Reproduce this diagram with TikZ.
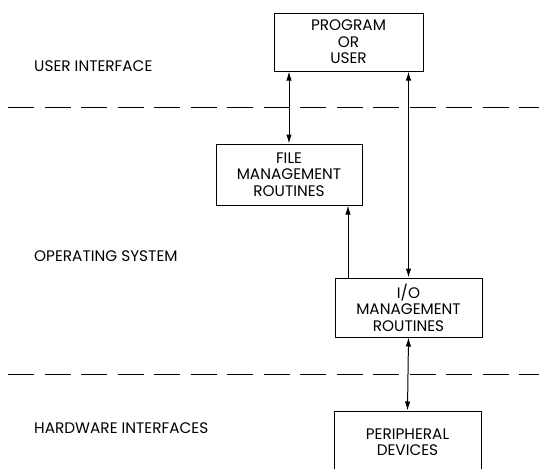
\documentclass[tikz,border=0pt]{standalone}
\usepackage{fontspec}
\setmainfont{Poppins}
\usetikzlibrary{arrows.meta}
\tikzset{
  x=1pt, y=-1pt,
  box/.style={draw, line width=1pt, rectangle, align=center, inner sep=0pt,
    font=\fontsize{15.3}{16.5}\selectfont},
  layer/.style={anchor=west, inner sep=0pt, font=\fontsize{15.3}{16.5}\selectfont},
  divider/.style={line width=1pt, dash pattern=on 26pt off 10.5pt},
  tip/.style={-{Latex[length=9pt,width=5.5pt]}, line width=1pt},
  twotip/.style={{Latex[length=9pt,width=5.5pt]}-{Latex[length=9pt,width=5.5pt]}, line width=1pt}
}
\begin{document}
\begin{tikzpicture}
\useasboundingbox (0,0) rectangle (539,469);
\clip (0,0) rectangle (539,469);

% layer names
\node[layer] (lui) at (34,66) {USER INTERFACE};
\node[layer] (los) at (34,256) {OPERATING SYSTEM};
\node[layer] (lhw) at (34,428) {HARDWARE INTERFACES};

% layer boundaries
\coordinate (d1a) at (8,107);
\coordinate (d1b) at (545,107);
\coordinate (d2a) at (8,374);
\coordinate (d2b) at (545,374);
\draw[divider] (d1a) -- (d1b);
\draw[divider] (d2a) -- (d2b);

% components
\node[box, minimum width=149pt, minimum height=58pt] (prog) at (348.5,42)
  {PROGRAM\\OR\\USER};
\node[box, minimum width=146pt, minimum height=61pt] (file) at (289,174.5)
  {FILE\\MANAGEMENT\\ROUTINES};
\node[box, minimum width=147pt, minimum height=59pt] (io) at (408.5,307.5)
  {I/O\\MANAGEMENT\\ROUTINES};
\node[box, minimum width=147pt, minimum height=62pt] (per) at (407.5,442)
  {PERIPHERAL\\DEVICES};

% connections
\draw[twotip] (file.north) -- (file.north |- prog.south);
\draw[twotip] (io.north) -- (io.north |- prog.south);
\draw[tip] ([xshift=-60.5pt]io.north) -- ([xshift=-60.5pt]io.north |- file.south);
\draw[twotip] (io.south) -- (per.north);
\end{tikzpicture}
\end{document}
